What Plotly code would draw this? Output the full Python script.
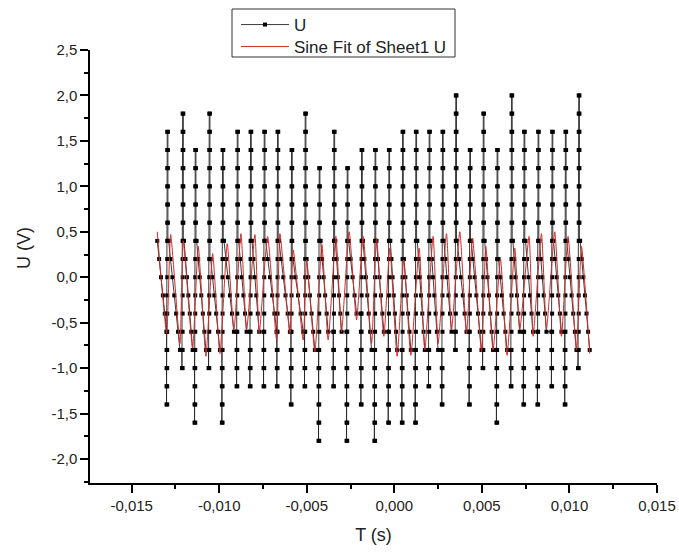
import plotly.graph_objects as go

# ---- data ----
# vertical "spike" columns of the measured signal U
col_t = [-0.01297, -0.01209, -0.01137, -0.01057, -0.00981, -0.00897, -0.00821, -0.00743,
         -0.00667, -0.00587, -0.00509, -0.00429, -0.00345, -0.00269, -0.00187, -0.00110,
         -0.00031, 0.00047, 0.00123, 0.00199, 0.00275, 0.00351, 0.00431, 0.00508,
         0.00587, 0.00669, 0.00741, 0.00821, 0.00901, 0.00977, 0.01053]
col_top = [1.6, 1.8, 1.4, 1.8, 1.4, 1.6, 1.6, 1.6, 1.6, 1.4, 1.8, 1.2, 1.6, 1.2, 1.4, 1.4,
           1.4, 1.6, 1.6, 1.6, 1.6, 2.0, 1.4, 1.8, 1.4, 2.0, 1.6, 1.6, 1.6, 1.6, 2.0]
col_bot = [-1.4, -1.0, -1.6, -1.0, -1.6, -1.2, -1.2, -1.2, -1.2, -1.4, -1.2, -1.8, -1.2, -1.8, -1.4, -1.8,
           -1.6, -1.6, -1.6, -1.2, -1.4, -0.8, -1.4, -1.0, -1.6, -1.2, -1.4, -1.4, -1.2, -1.4, -1.0]

# sine-fit curve vertices (peak, trough, peak, trough, ...)
fit_t = [-0.013539, -0.013002, -0.012774, -0.012243, -0.012055, -0.011518, -0.011199, -0.010759,
         -0.010377, -0.009960, -0.009543, -0.009161, -0.008761, -0.008436, -0.007962, -0.007717,
         -0.007237, -0.006724, -0.006535, -0.005965, -0.005776, -0.005205, -0.005011, -0.004538,
         -0.004138, -0.003779, -0.003339, -0.003014, -0.002580, -0.002158, -0.001781, -0.001301,
         -0.001016, -0.000599, -0.000257, 0.000160, 0.000542, 0.000942, 0.001416, 0.001741,
         0.002215, 0.002500, 0.002979, 0.003265, 0.003739, 0.004121, 0.004463, 0.004977,
         0.005223, 0.005639, 0.006062, 0.006438, 0.006878, 0.007163, 0.007694, 0.007922,
         0.008402, 0.008687, 0.009161, 0.009543, 0.009920, 0.010400, 0.010685, 0.011158]
fit_u = [0.50, -0.62, 0.47, -0.73, 0.40, -0.78, 0.34, -0.87,
         0.26, -0.84, 0.37, -0.58, 0.48, -0.58, 0.47, -0.62,
         0.45, -0.69, 0.48, -0.62, 0.30, -0.69, 0.19, -0.82,
         0.36, -0.69, 0.45, -0.60, 0.50, -0.47, 0.45, -0.73,
         0.43, -0.65, 0.32, -0.87, 0.19, -0.86, 0.32, -0.80,
         0.45, -0.73, 0.48, -0.58, 0.50, -0.62, 0.43, -0.82,
         0.34, -0.80, 0.20, -0.86, 0.32, -0.58, 0.45, -0.65,
         0.48, -0.57, 0.50, -0.65, 0.45, -0.80, 0.34, -0.84]

x_tickvals = [-0.015, -0.010, -0.005, 0.0, 0.005, 0.010, 0.015]
x_ticktext = ["-0,015", "-0,010", "-0,005", "0,000", "0,005", "0,010", "0,015"]
y_tickvals = [-2.0, -1.5, -1.0, -0.5, 0.0, 0.5, 1.0, 1.5, 2.0, 2.5]
y_ticktext = ["-2,0", "-1,5", "-1,0", "-0,5", "0,0", "0,5", "1,0", "1,5", "2,0", "2,5"]

# ---- assemble the quantised (0.2 V) signal from the readings ----
STEP = 0.2
COL_W = 0.00004


def lvl(v):
    return int(round(v / STEP))


def run(k0, k1):
    s = 1 if k1 >= k0 else -1
    return list(range(k0, k1 + s, s))


u_t, u_v = [], []


def descent(t0, t1, k0, k1):
    ks = run(k0, k1)
    n = len(ks)
    for j, k in enumerate(ks):
        u_t.append(t0 + (t1 - t0) * (j / max(n - 1, 1)))
        u_v.append(round(k * STEP, 1))


def column(t, k_from, k_bot, k_top, k_to):
    for k in run(k_from, k_bot):
        u_t.append(t - COL_W); u_v.append(round(k * STEP, 1))
    for k in run(k_bot, k_top):
        u_t.append(t); u_v.append(round(k * STEP, 1))
    for k in run(k_top, k_to):
        u_t.append(t + COL_W); u_v.append(round(k * STEP, 1))


for i in range(len(col_t)):
    k_start = lvl(fit_u[2 * i])
    k_trough = lvl(fit_u[2 * i + 1])
    t0 = fit_t[0] if i == 0 else col_t[i - 1] + 2 * COL_W
    descent(t0, fit_t[2 * i + 1], k_start, k_trough)
    column(col_t[i], k_trough, lvl(col_bot[i]), lvl(col_top[i]), lvl(fit_u[2 * i + 2]))
descent(col_t[-1] + 2 * COL_W, fit_t[-1], lvl(fit_u[-2]), lvl(fit_u[-1]))

FONT = "Liberation Sans, Arial, sans-serif"
TXT = "#222"

# plot-area geometry (pixels) used to place legend / titles in paper coordinates
W, H = 679, 554
ML, MR, MT, MB = 90, 22, 50, 71
PW, PH = W - ML - MR, H - MT - MB


def px_x(p):
    return (p - ML) / PW


def px_y(p):
    return (H - MB - p) / PH


fig = go.Figure()
fig.add_trace(go.Scatter(
    x=u_t, y=u_v, mode="lines+markers", name="U", legend="legend",
    line=dict(color="#262626", width=0.9),
    marker=dict(symbol="square", size=4, color="black", line=dict(width=0)),
))
fig.add_trace(go.Scatter(
    x=fit_t, y=fit_u, mode="lines", name="Sine Fit of Sheet1 U", legend="legend2",
    line=dict(color="#d02c2c", width=1, shape="spline", smoothing=0.5),
))

axis_common = dict(
    showline=True, linecolor="black", linewidth=1.5, mirror=False,
    ticks="outside", ticklen=8, tickwidth=1.5, tickcolor="black",
    showgrid=False, zeroline=False, automargin=False,
    tickfont=dict(family=FONT, size=15, color=TXT),
)
leg_common = dict(
    xanchor="left", yanchor="middle", bgcolor="rgba(0,0,0,0)", borderwidth=0,
    font=dict(family=FONT, size=17, color=TXT), itemwidth=48,
)
fig.update_layout(
    width=W, height=H,
    margin=dict(l=ML, r=MR, t=MT, b=MB, autoexpand=False),
    paper_bgcolor="white", plot_bgcolor="white",
    font=dict(family=FONT, color=TXT),
    xaxis=dict(
        range=[-0.01738, 0.015], tickmode="array", tickvals=x_tickvals, ticktext=x_ticktext,
        title=dict(text="T (s)", font=dict(family=FONT, size=18, color=TXT), standoff=16),
        minor=dict(ticks="outside", ticklen=4, tickwidth=1.5, tickcolor="black",
                   tick0=-0.0025, dtick=0.005),
        **axis_common,
    ),
    yaxis=dict(
        range=[-2.264, 2.5], tickmode="array", tickvals=y_tickvals, ticktext=y_ticktext,
        minor=dict(ticks="outside", ticklen=4, tickwidth=1.5, tickcolor="black",
                   tick0=0.25, dtick=0.5),
        **axis_common,
    ),
    legend=dict(x=px_x(236), y=px_y(25), **leg_common),
    legend2=dict(x=px_x(236), y=px_y(47), **leg_common),
    shapes=[dict(type="rect", xref="paper", yref="paper",
                 x0=px_x(232), x1=px_x(455), y0=px_y(57), y1=px_y(9),
                 line=dict(color="#333", width=1), fillcolor="rgba(0,0,0,0)", layer="above")],
    annotations=[dict(text="U (V)", xref="paper", yref="paper", x=px_x(24), y=px_y(248),
                      textangle=-90, showarrow=False, xanchor="center", yanchor="middle",
                      font=dict(family=FONT, size=18, color=TXT))],
    showlegend=True,
)

fig.write_html("out.html")
